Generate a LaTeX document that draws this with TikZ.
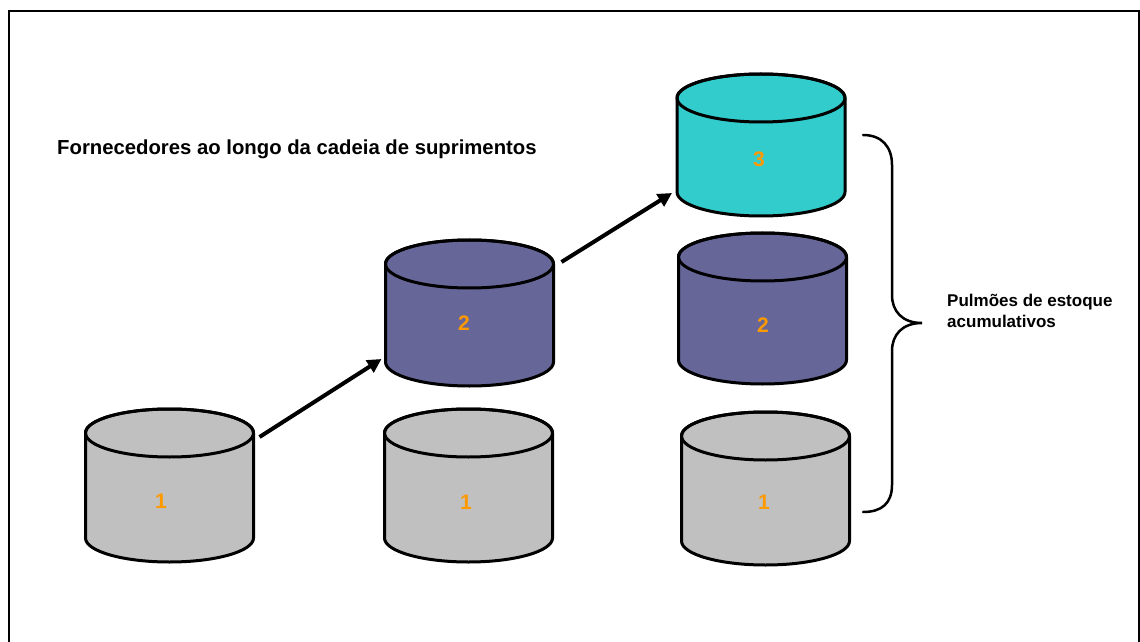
\documentclass[tikz,border=0pt]{standalone}
\usepackage{fontspec}
\setmainfont{Liberation Sans}
\usetikzlibrary{arrows.meta}

\definecolor{tankgray}{HTML}{C0C0C0}
\definecolor{tankpurple}{HTML}{666699}
\definecolor{tankcyan}{HTML}{33CCCC}
\definecolor{labelorange}{HTML}{FF9900}

\tikzset{
  tankline/.style={draw=black, line width=3pt, line join=round},
  tanklabel/.style={font=\fontsize{21}{21}\selectfont\bfseries, text=labelorange, inner sep=0pt},
  flowarrow/.style={line width=4pt, -{Triangle[length=14pt,width=14pt]}},
  bracestyle/.style={line width=2.5pt, line cap=round},
  caption/.style={font=\fontsize{20.3}{24}\selectfont\bfseries, inner sep=0pt, anchor=base west},
  sidenote/.style={font=\fontsize{17}{21}\selectfont\bfseries, inner sep=0pt, align=left, anchor=north west},
}

% #1 name, #2 centre x, #3 y of top ellipse centre, #4 side height,
% #5 fill colour, #6 label, #7/#8 label position
\newcommand\tank[8]{%
  \filldraw[tankline, fill=#5] (#2-84,#3) -- ++(0,-#4)
     arc[start angle=180, end angle=360, x radius=84, y radius=24]
     -- ++(0,#4)
     arc[start angle=0, end angle=180, x radius=84, y radius=24] -- cycle;
  \draw[tankline] (#2,#3) ellipse[x radius=84, y radius=24];
  \coordinate (#1-tr) at (#2+84,#3);
  \coordinate (#1-bl) at (#2-84,#3-#4);
  \node[tanklabel] (#1) at (#7,#8) {#6};
}

\begin{document}
\begin{tikzpicture}[x=1pt,y=1pt]
  \useasboundingbox (0,0) rectangle (1140,641);
  \clip (0,0) rectangle (1140,641);
  \fill[white] (0,0) rectangle (1140,641);

  % outer frame
  \draw[line width=2pt] (9,-10) -- (9,630) -- (1138.5,630) -- (1138.5,-10);

  % supplier tanks
  \tank{a1}{169.5}{208}{105}{tankgray}{1}{161}{140}
  \tank{b1}{468.5}{208}{105}{tankgray}{1}{466}{139}
  \tank{c1}{765.5}{205}{105}{tankgray}{1}{764}{139}
  \tank{b2}{469.5}{377}{98}{tankpurple}{2}{464}{318}
  \tank{c2}{762.5}{384}{103}{tankpurple}{2}{763}{316}
  \tank{c3}{761}{543}{94}{tankcyan}{3}{759}{482}

  % flow between stages
  \draw[flowarrow] ([shift={(6,-4)}]a1-tr) -- ([shift={(-4,3)}]b2-bl);
  \draw[flowarrow] ([shift={(8,2)}]b2-tr) -- ([shift={(-5,-1)}]c3-bl);

  % brace grouping the last column
  \coordinate (brtop) at (863,506);
  \coordinate (brtip) at (922,318);
  \coordinate (brbot) at (863,129);
  \draw[bracestyle] (brtop) .. controls (882,506) and (892,494) .. (892,476)
     -- (892,346) .. controls (892,330) and (902,318) .. (brtip)
     .. controls (902,318) and (892,306) .. (892,290)
     -- (892,156) .. controls (892,138) and (882,129) .. (brbot);

  % texts
  \node[caption] (title) at (57,486) {Fornecedores ao longo da cadeia de suprimentos};
  \node[sidenote] (buffer) at (947,347) {Pulmões de estoque\\acumulativos};
\end{tikzpicture}
\end{document}
